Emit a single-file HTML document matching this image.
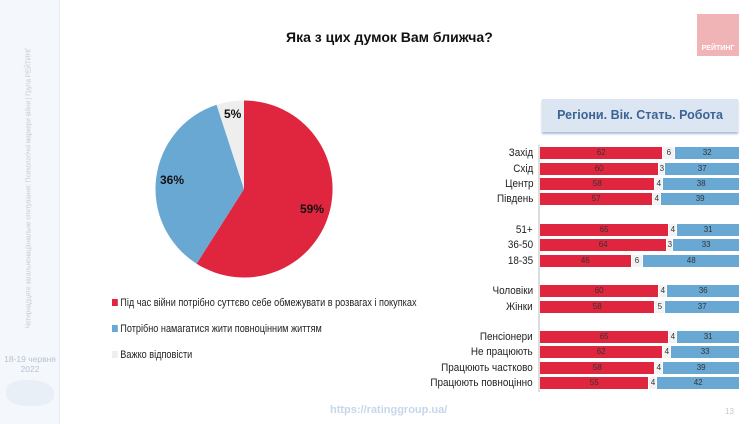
<!DOCTYPE html>
<html><head><meta charset="utf-8"><style>
*{margin:0;padding:0;box-sizing:border-box}
body{width:755px;height:424px;background:#fff;position:relative;overflow:hidden;font-family:"Liberation Sans",sans-serif}
.side{position:absolute;left:0;top:0;width:60px;height:424px;background:#f4f7fb;border-right:1px solid #e6ebf2}
.abs{position:absolute;white-space:nowrap}
.lab{position:absolute;right:222px;font-size:11px;color:#222;transform:scaleX(0.9);transform-origin:right center;line-height:12px}
.bar{position:absolute;left:540px;width:199px;height:12px;display:flex;font-size:8px;line-height:12px;text-align:center;color:#333}
.r{background:#e0263f}.g{background:#f2f2f2}.b{background:#6aa8d4}
.bar div{border-right:1px solid #fff}
.bar div:last-child{border-right:none}
.leg{position:absolute;left:112px;font-size:11px;color:#222;transform:scaleX(0.83);transform-origin:left center}
.leg span{display:inline-block;width:7px;height:7px;margin-right:3px}
</style></head><body>
<div class="side"></div>
<div class="abs" style="left:28px;top:188px;transform:translate(-50%,-50%) rotate(-90deg) scaleX(0.85);font-size:7.5px;color:#c4ccd8">Чотирнадцяте загальнонаціональне опитування: Психологічні маркери війни | Група РЕЙТИНГ</div>
<div class="abs" style="left:0;width:60px;top:354px;text-align:center;font-size:8.5px;color:#b9c3d2;white-space:normal;line-height:10px">18-19 червня<br>2022</div>
<div class="abs" style="left:6px;top:380px;width:48px;height:26px;background:#e9eff6;border-radius:40% 50% 40% 45%"></div>
<div class="abs" style="left:286px;top:29px;font-size:14px;font-weight:bold;color:#111">Яка з цих думок Вам ближча?</div>
<div class="abs" style="left:697px;top:14px;width:42px;height:42px;background:#f0b4b6"></div>
<div class="abs" style="left:697px;top:45px;width:42px;font-size:7px;color:#fff;font-weight:bold;text-align:center">РЕЙТИНГ</div>
<svg class="abs" style="left:0;top:0" width="755" height="424">
<path d="M244,189 L244,100.5 A88.5,88.5 0 1,1 196.6,263.7 Z" fill="#e0263f"/>
<path d="M244,189 L196.6,263.7 A88.5,88.5 0 0,1 216.6,104.8 Z" fill="#6aa8d4"/>
<path d="M244,189 L216.6,104.8 A88.5,88.5 0 0,1 244,100.5 Z" fill="#eeeeee"/>
<g font-family="Liberation Sans" font-weight="bold" font-size="12" fill="#111">
<text x="300" y="213">59%</text><text x="160" y="184">36%</text><text x="224" y="118">5%</text></g>
<line x1="539" y1="145" x2="539" y2="392" stroke="#bbb" stroke-width="1"/>
</svg>
<div class="leg" style="top:297px"><span style="background:#e0263f"></span>Під час війни потрібно суттєво себе обмежувати в розвагах і покупках</div>
<div class="leg" style="top:323px"><span style="background:#6aa8d4"></span>Потрібно намагатися жити повноцінним життям</div>
<div class="leg" style="top:349px"><span style="background:#eeeeee"></span>Важко відповісти</div>
<div class="abs" style="left:542px;top:99px;width:196px;height:33px;background:#dce6f2;box-shadow:0 2px 2px #a9bcd6;text-align:center;line-height:33px;font-size:12.5px;font-weight:bold;color:#3b6495">Регіони. Вік. Стать. Робота</div>
<div class="abs" style="left:330px;top:404px;font-size:11px;font-weight:bold;color:#c6d7ec">https://ratinggroup.ua/</div>
<div class="abs" style="left:725px;top:407px;font-size:8px;color:#c0c8d4">13</div>

<div class="lab" style="top:147px">Захід</div><div class="bar" style="top:147px"><div class="r" style="width:62%">62</div><div class="g" style="width:6%">6</div><div class="b" style="width:32%">32</div></div>
<div class="lab" style="top:163px">Схід</div><div class="bar" style="top:163px"><div class="r" style="width:60%">60</div><div class="g" style="width:3%">3</div><div class="b" style="width:37%">37</div></div>
<div class="lab" style="top:178px">Центр</div><div class="bar" style="top:178px"><div class="r" style="width:58%">58</div><div class="g" style="width:4%">4</div><div class="b" style="width:38%">38</div></div>
<div class="lab" style="top:193px">Південь</div><div class="bar" style="top:193px"><div class="r" style="width:57%">57</div><div class="g" style="width:4%">4</div><div class="b" style="width:39%">39</div></div>
<div class="lab" style="top:224px">51+</div><div class="bar" style="top:224px"><div class="r" style="width:65%">65</div><div class="g" style="width:4%">4</div><div class="b" style="width:31%">31</div></div>
<div class="lab" style="top:239px">36-50</div><div class="bar" style="top:239px"><div class="r" style="width:64%">64</div><div class="g" style="width:3%">3</div><div class="b" style="width:33%">33</div></div>
<div class="lab" style="top:255px">18-35</div><div class="bar" style="top:255px"><div class="r" style="width:46%">46</div><div class="g" style="width:6%">6</div><div class="b" style="width:48%">48</div></div>
<div class="lab" style="top:285px">Чоловіки</div><div class="bar" style="top:285px"><div class="r" style="width:60%">60</div><div class="g" style="width:4%">4</div><div class="b" style="width:36%">36</div></div>
<div class="lab" style="top:301px">Жінки</div><div class="bar" style="top:301px"><div class="r" style="width:58%">58</div><div class="g" style="width:5%">5</div><div class="b" style="width:37%">37</div></div>
<div class="lab" style="top:331px">Пенсіонери</div><div class="bar" style="top:331px"><div class="r" style="width:65%">65</div><div class="g" style="width:4%">4</div><div class="b" style="width:31%">31</div></div>
<div class="lab" style="top:346px">Не працюють</div><div class="bar" style="top:346px"><div class="r" style="width:62%">62</div><div class="g" style="width:4%">4</div><div class="b" style="width:34%">33</div></div>
<div class="lab" style="top:362px">Працюють частково</div><div class="bar" style="top:362px"><div class="r" style="width:58%">58</div><div class="g" style="width:4%">4</div><div class="b" style="width:38%">39</div></div>
<div class="lab" style="top:377px">Працюють повноцінно</div><div class="bar" style="top:377px"><div class="r" style="width:55%">55</div><div class="g" style="width:4%">4</div><div class="b" style="width:41%">42</div></div>
</body></html>
